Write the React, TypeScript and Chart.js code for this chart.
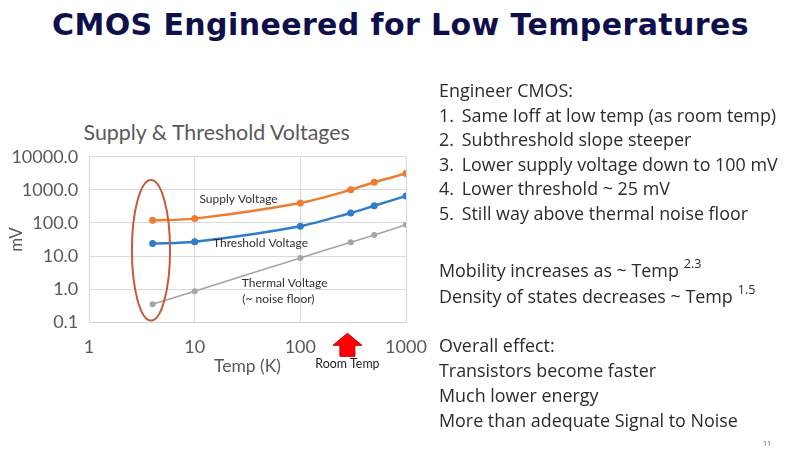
import React, { useEffect, useRef } from "react";
import { Chart, registerables } from "chart.js";

Chart.register(...registerables);

// ---- data ----
const temps = [4, 10, 100, 300, 500, 1000];
const supplyMv = [120, 135, 400, 1000, 1700, 3100];
const thresholdMv = [24, 27, 80, 200, 330, 650];
const thermalMv = [0.35, 0.87, 8.8, 26, 43, 88];
const xTicks = [1, 10, 100, 1000];
const yTicks = [0.1, 1, 10, 100, 1000, 10000];
const seriesNames = ["Supply Voltage", "Threshold Voltage", "Thermal Voltage"];

// in-plot text labels (anchored in data space)
const labelTexts = ["Supply Voltage", "Threshold Voltage", "Thermal Voltage", "(~ noise floor)"];
const labelTemps = [26, 42, 71, 62];
const labelValues = [530, 24.8, 1.53, 0.505];

const slideTitle = "CMOS Engineered for Low Temperatures";
const chartTitle = "Supply & Threshold Voltages";
const listHeader = "Engineer CMOS:";
const listItems = [
  "Same Ioff at low temp (as room temp)",
  "Subthreshold slope steeper",
  "Lower supply voltage down to 100 mV",
  "Lower threshold ~ 25 mV",
  "Still way above thermal noise floor",
];
const effectHeader = "Overall effect:";
const effectItems = [
  "Transistors become faster",
  "Much lower energy",
  "More than adequate Signal to Noise",
];

const annotationPlugin = {
  id: "slideAnnotations",
  afterDatasetsDraw(chart: any) {
    const { ctx, chartArea } = chart;
    const x = chart.scales.x;
    const y = chart.scales.y;
    ctx.save();
    // series labels
    ctx.font = "12px Lato";
    ctx.fillStyle = "#303030";
    ctx.textAlign = "center";
    ctx.textBaseline = "middle";
    labelTexts.forEach((t, i) => {
      ctx.fillText(t, x.getPixelForValue(labelTemps[i]), y.getPixelForValue(labelValues[i]));
    });
    // red ellipse around the 4 K points
    const cx = x.getPixelForValue(3.86);
    const cy = y.getPixelForValue(15);
    const rx = (x.getPixelForValue(5.83) - x.getPixelForValue(2.54)) / 2;
    const ry = (y.getPixelForValue(0.112) - y.getPixelForValue(1980)) / 2;
    ctx.beginPath();
    ctx.ellipse(cx, cy, rx, ry, 0, 0, Math.PI * 2);
    ctx.strokeStyle = "#C55A3C";
    ctx.lineWidth = 2;
    ctx.stroke();
    // room temperature arrow
    const ax = x.getPixelForValue(279);
    const b = chartArea.bottom;
    ctx.beginPath();
    ctx.moveTo(ax, b + 11);
    ctx.lineTo(ax + 14.5, b + 23);
    ctx.lineTo(ax + 7.5, b + 23);
    ctx.lineTo(ax + 7.5, b + 34);
    ctx.lineTo(ax - 7.5, b + 34);
    ctx.lineTo(ax - 7.5, b + 23);
    ctx.lineTo(ax - 14.5, b + 23);
    ctx.closePath();
    ctx.fillStyle = "#FF0000";
    ctx.fill();
    ctx.strokeStyle = "#C00000";
    ctx.lineWidth = 1;
    ctx.stroke();
    ctx.font = "12.4px Lato";
    ctx.fillStyle = "#222";
    ctx.fillText("Room Temp", ax, b + 42);
    ctx.restore();
  },
};

function VoltageChart() {
  const ref = useRef<HTMLCanvasElement>(null);
  useEffect(() => {
    if (!ref.current) return;
    const colors = ["#ED7D31", "#2F7DC8", "#A5A5A5"];
    const widths = [2.5, 2.5, 1.6];
    const radii = [3.5, 3.5, 3];
    const values = [supplyMv, thresholdMv, thermalMv];
    const tickFont = { family: "Lato", size: 18 };
    const chart = new Chart(ref.current, {
      type: "line",
      data: {
        datasets: values.map((vals, i) => ({
          label: seriesNames[i],
          data: temps.map((t, j) => ({ x: t, y: vals[j] })),
          borderColor: colors[i],
          backgroundColor: colors[i],
          borderWidth: widths[i],
          pointRadius: radii[i],
          pointBorderWidth: 0,
          tension: 0.3,
        })),
      },
      options: {
        animation: false,
        responsive: false,
        layout: { padding: { top: 56.7, right: 34, bottom: 0, left: 0 } },
        plugins: {
          legend: { display: false },
          tooltip: { enabled: false },
          title: { display: false },
        },
        scales: {
          x: {
            type: "logarithmic",
            min: 1,
            max: 1000,
            afterBuildTicks: (s: any) => {
              s.ticks = xTicks.map((v) => ({ value: v }));
            },
            afterFit: (s: any) => {
              s.height = 54.7;
              s.paddingLeft = 0;
              s.paddingRight = 0;
            },
            ticks: {
              callback: (v: any) => String(v),
              font: tickFont,
              color: "#595959",
              padding: 13.7,
              autoSkip: false,
              maxRotation: 0,
            },
            grid: { color: "#D9D9D9", drawTicks: false },
            border: { color: "#D0D0D0" },
            title: {
              display: true,
              text: "Temp (K)",
              font: { family: "Lato", size: 17.5 },
              color: "#595959",
              padding: { top: 0, bottom: 0 },
            },
          },
          y: {
            type: "logarithmic",
            min: 0.1,
            max: 10000,
            afterBuildTicks: (s: any) => {
              s.ticks = yTicks.map((v) => ({ value: v }));
            },
            afterFit: (s: any) => {
              s.width = 89;
            },
            ticks: {
              callback: (v: any) => Number(v).toFixed(1),
              font: tickFont,
              color: "#595959",
              padding: 10.7,
              autoSkip: false,
            },
            grid: { color: "#D9D9D9", drawTicks: false },
            border: { color: "#D9D9D9" },
            title: {
              display: true,
              text: "mV",
              font: { family: "Lato", size: 17 },
              color: "#595959",
              padding: { top: 6.3, bottom: 0 },
            },
          },
        },
      } as any,
      plugins: [annotationPlugin],
    });
    return () => chart.destroy();
  }, []);
  return (
    <canvas
      ref={ref}
      width={440}
      height={277}
      style={{ position: "absolute", left: 0, top: 100, width: 440, height: 277 }}
    />
  );
}

function Txt(props: { x: number; y: number; size: number; children: any; style?: any }) {
  return (
    <div
      style={{
        position: "absolute",
        left: props.x,
        top: props.y,
        fontSize: props.size,
        lineHeight: 1,
        transform: "translateY(-50%)",
        whiteSpace: "nowrap",
        ...(props.style || {}),
      }}
    >
      {props.children}
    </div>
  );
}

export default function App() {
  const textColor = "#2B2B2B";
  const fs = 17.9;
  return (
    <div
      style={{
        position: "fixed",
        left: 0,
        top: 0,
        width: 800,
        height: 451,
        background: "#FFFFFF",
        overflow: "hidden",
        fontFamily: "'Open Sans', Lato, sans-serif",
        color: textColor,
      }}
    >
      <div
        style={{
          position: "absolute",
          left: 0,
          width: 801,
          top: 24.5,
          transform: "translateY(-50%)",
          textAlign: "center",
          fontFamily: "'DejaVu Sans', Verdana, sans-serif",
          fontWeight: "bold",
          fontSize: 30,
          letterSpacing: 0.4,
          lineHeight: 1,
          color: "#0F0F4B",
          whiteSpace: "nowrap",
        }}
      >
        {slideTitle}
      </div>

      <div
        style={{
          position: "absolute",
          left: 0,
          width: 433.4,
          top: 133.3,
          transform: "translateY(-50%)",
          textAlign: "center",
          fontFamily: "Lato, sans-serif",
          fontSize: 21.4,
          lineHeight: 1,
          color: "#595959",
          whiteSpace: "nowrap",
        }}
      >
        {chartTitle}
      </div>

      <VoltageChart />

      <Txt x={439} y={90.7} size={fs}>{listHeader}</Txt>
      {listItems.map((t, i) => (
        <React.Fragment key={t}>
          <Txt x={439} y={115.6 + i * 24.6} size={fs}>{`${i + 1}.`}</Txt>
          <Txt x={461.7} y={115.6 + i * 24.6} size={fs}>{t}</Txt>
        </React.Fragment>
      ))}

      <Txt x={439} y={270.7} size={fs}>
        Mobility increases as ~ Temp
        <span style={{ fontSize: 12.5, position: "relative", top: -9, marginLeft: 5 }}>2.3</span>
      </Txt>
      <Txt x={439} y={296.7} size={fs}>
        Density of states decreases ~ Temp
        <span style={{ fontSize: 12.5, position: "relative", top: -9, marginLeft: 5 }}>1.5</span>
      </Txt>

      <Txt x={439} y={346} size={fs}>{effectHeader}</Txt>
      {effectItems.map((t, i) => (
        <Txt key={t} x={439} y={371 + i * 24.8} size={fs}>{t}</Txt>
      ))}

      <Txt x={763} y={443} size={7} style={{ color: "#555" }}>11</Txt>
    </div>
  );
}
